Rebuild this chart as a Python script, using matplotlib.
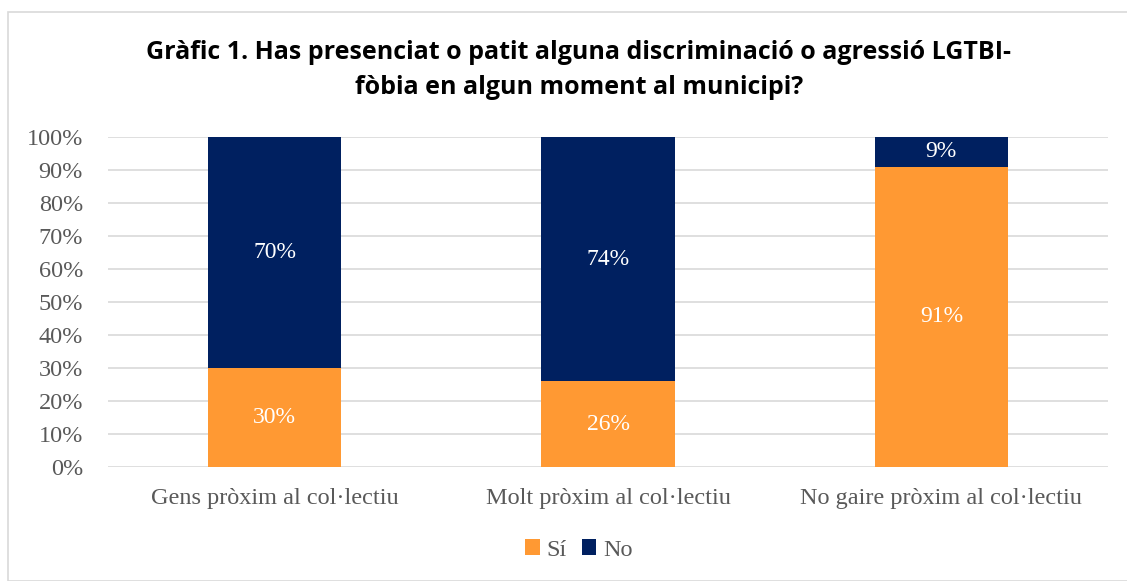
import matplotlib.pyplot as plt
from matplotlib.patches import Rectangle

categories = ["Gens pròxim al col·lectiu", "Molt pròxim al col·lectiu", "No gaire pròxim al col·lectiu"]
si_values = [30, 26, 91]
no_values = [70, 74, 9]
title = "Gràfic 1. Has presenciat o patit alguna discriminació o agressió LGTBI-\nfòbia en algun moment al municipi?"

ORANGE = "#FF9933"
NAVY = "#002060"
GRAY = "#595959"
SERIF = ["Liberation Serif", "DejaVu Serif"]

fig = plt.figure(figsize=(11.27, 5.81), dpi=100)
fig.patches.append(Rectangle((8 / 1127, 0), 1, 1 - 12 / 581, transform=fig.transFigure,
                             fill=False, edgecolor="#D9D9D9", linewidth=1.2))

ax = fig.add_axes([108 / 1127, 1 - 467 / 581, 1000 / 1127, 330 / 581])
x = range(len(categories))
width = 0.4
ax.bar(x, si_values, width, color=ORANGE, label="Sí", zorder=3)
ax.bar(x, no_values, width, bottom=si_values, color=NAVY, label="No", zorder=3)

for i in x:
    ax.text(i, si_values[i] / 2, f"{si_values[i]}%", ha="center", va="center",
            color="white", fontsize=17, family=SERIF, zorder=4)
    ax.text(i, si_values[i] + no_values[i] / 2, f"{no_values[i]}%", ha="center", va="center",
            color="white", fontsize=17, family=SERIF, zorder=4)

ax.set_xlim(-0.5, 2.5)
ax.set_ylim(0, 100)
ax.set_yticks(range(0, 101, 10))
ax.set_yticklabels([f"{v}%" for v in range(0, 101, 10)], family=SERIF, fontsize=17.5, color=GRAY)
ax.set_xticks(list(x))
ax.set_xticklabels(categories, family=SERIF, fontsize=17.5, color=GRAY)
ax.tick_params(length=0, axis="both")
ax.tick_params(axis="x", pad=15)
ax.tick_params(axis="y", pad=18)
ax.grid(axis="y", color="#D9D9D9", linewidth=1.2, zorder=0)
for s in ax.spines.values():
    s.set_visible(False)

fig.text(579 / 1127, 1 - 70 / 581, title, ha="center", va="center", fontsize=18,
         fontweight="bold", family=["Open Sans", "DejaVu Sans"], color="black", linespacing=1.55)

leg = fig.legend(loc="center", bbox_to_anchor=(579 / 1127, 1 - 550 / 581), ncol=2, frameon=False,
                 prop={"family": SERIF, "size": 17.5}, handlelength=0.6, handleheight=0.6,
                 handletextpad=0.3, columnspacing=0.6)
for t in leg.get_texts():
    t.set_color(GRAY)

fig.savefig("out.png", dpi=100)
